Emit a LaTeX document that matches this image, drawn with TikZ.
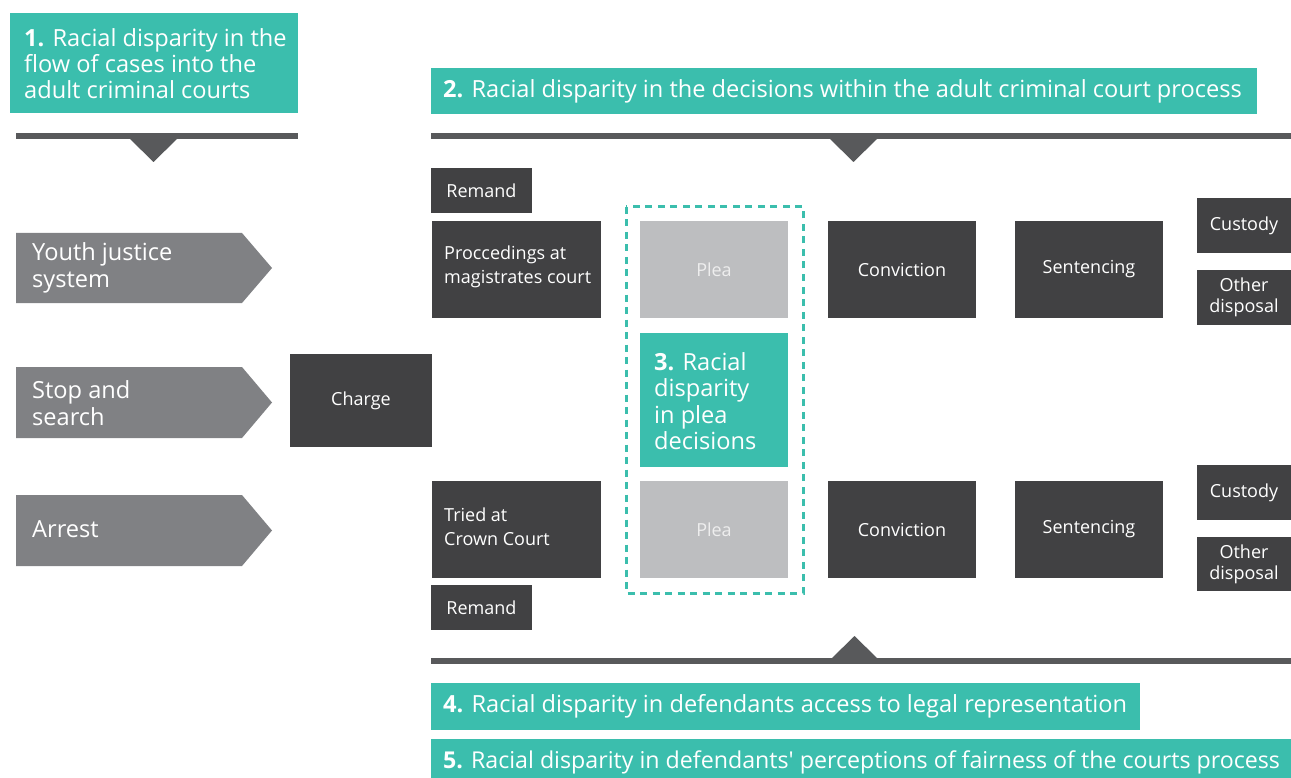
\documentclass[tikz,border=0pt]{standalone}
\usepackage{fontspec}
\setmainfont{Open Sans}
\newfontfamily\plainfam{Open Sans}
\definecolor{teal1}{HTML}{3BBEAD}
\definecolor{dk}{HTML}{414143}
\definecolor{barc}{HTML}{58595B}
\definecolor{arrg}{HTML}{808184}
\definecolor{pleag}{HTML}{BDBEC0}
\definecolor{pleat}{HTML}{EEEEEE}
\begin{document}
\begin{tikzpicture}[x=1pt,y=-1pt,
  tealbox/.style={fill=teal1, inner sep=0, draw=none},
  tealtxt/.style={text=white, inner sep=0, anchor=west, align=left, font=\fontsize{23.6}{26.3}\selectfont},
  dkbox/.style={fill=dk, inner sep=0, text=white, font=\fontsize{18}{24}\selectfont, align=center},
  dktxt/.style={text=white, inner sep=0, anchor=west, align=left, font=\fontsize{18}{24}\selectfont},
  pleabox/.style={fill=pleag, inner sep=0, text=pleat, font=\fontsize{18}{24}\selectfont, minimum width=148, minimum height=97},
  arrtxt/.style={text=white, inner sep=0, anchor=west, align=left, font=\fontsize{23.6}{27}\selectfont},
  barfill/.style={fill=barc},
  arrfill/.style={fill=arrg}
]
\useasboundingbox (0,0) rectangle (1291,778);

% teal headings
\node[tealbox, minimum width=288, minimum height=100] (h1) at (154,63) {};
\node[tealtxt] (h1t) at (24,63.5) {\textbf{1.} Racial disparity in the\\flow of cases into the\\adult criminal courts};

\node[tealbox, minimum width=826, minimum height=46] (h2) at (844,91) {};
\node[tealtxt] (h2t) at (443,91) {\textbf{2.} Racial disparity in the decisions within the adult criminal court process};

\node[tealbox, minimum width=709, minimum height=47] (h4) at (785.5,706.5) {};
\node[tealtxt] (h4t) at (443,706.5) {\textbf{4.} Racial disparity in defendants access to legal representation};

\node[tealbox, minimum width=860, minimum height=41] (h5) at (861,759.5) {};
\node[tealtxt, font=\fontsize{23.2}{26}\selectfont] (h5t) at (443,762) {\textbf{5.} Racial disparity in defendants{\plainfam'} perceptions of fairness of the courts process};

% bars with triangles
\fill[barfill] (16,133) rectangle (298,139);
\fill[barfill] (130,139) -- (177,139) -- (153.5,162) -- cycle;
\fill[barfill] (431,133) rectangle (1291,139);
\fill[barfill] (830,139) -- (877,139) -- (853.5,162) -- cycle;
\fill[barfill] (431,658) rectangle (1291,664);
\fill[barfill] (832,658) -- (877,658) -- (854.5,636) -- cycle;

% left arrows
\fill[arrfill] (16,233) -- (242,233) -- (272,268) -- (242,303) -- (16,303) -- cycle;
\node[arrtxt] (a1) at (32,268) {Youth justice\\system};
\fill[arrfill] (16,367) -- (242,367) -- (272,402.5) -- (242,438) -- (16,438) -- cycle;
\node[arrtxt] (a2) at (32,403) {Stop and\\search};
\fill[arrfill] (16,495) -- (242,495) -- (272,530.5) -- (242,566) -- (16,566) -- cycle;
\node[arrtxt] (a3) at (32,529) {Arrest};

% charge
\node[dkbox, minimum width=142, minimum height=93] (charge) at (361,400.5) {Charge};

% remand
\node[dkbox, minimum width=101, minimum height=45] (rem1) at (481.5,190.5) {Remand};
\node[dkbox, minimum width=101, minimum height=45] (rem2) at (481.5,607.5) {Remand};

% court boxes
\node[dkbox, minimum width=169, minimum height=97] (mag) at (516.5,269.5) {};
\node[dktxt] (magt) at (444,267) {Proccedings at\\magistrates court};
\node[dkbox, minimum width=169, minimum height=97] (crown) at (516.5,529.5) {};
\node[dktxt] (crownt) at (444,527) {Tried at\\Crown Court};

% plea
\draw[teal1, line width=3, dash pattern=on 7pt off 5.5pt] (626,207) rectangle (803,593);
\node[pleabox] (plea1) at (714,269.5) {Plea};
\node[pleabox] (plea2) at (714,529.5) {Plea};
\node[tealbox, minimum width=148, minimum height=134] (h3) at (714,400) {};
\node[tealtxt] (h3t) at (654,401) {\textbf{3.} Racial\\disparity\\in plea\\decisions};

% conviction, sentencing
\node[dkbox, minimum width=148, minimum height=97] (conv1) at (902,269.5) {Conviction};
\node[dkbox, minimum width=148, minimum height=97] (conv2) at (902,529.5) {Conviction};
\node[dkbox, minimum width=148, minimum height=97] (sent1) at (1089,269.5) {Sentencing};
\node[dkbox, minimum width=148, minimum height=97] (sent2) at (1089,529.5) {Sentencing};

% outcomes
\node[dkbox, minimum width=94, minimum height=55] (cus1) at (1244,225.5) {Custody};
\node[dkbox, minimum width=94, minimum height=55, font=\fontsize{18}{21}\selectfont] (oth1) at (1244,297.5) {Other\\disposal};
\node[dkbox, minimum width=94, minimum height=55] (cus2) at (1244,492.5) {Custody};
\node[dkbox, minimum width=94, minimum height=54, font=\fontsize{18}{21}\selectfont] (oth2) at (1244,564) {Other\\disposal};
\end{tikzpicture}
\end{document}
